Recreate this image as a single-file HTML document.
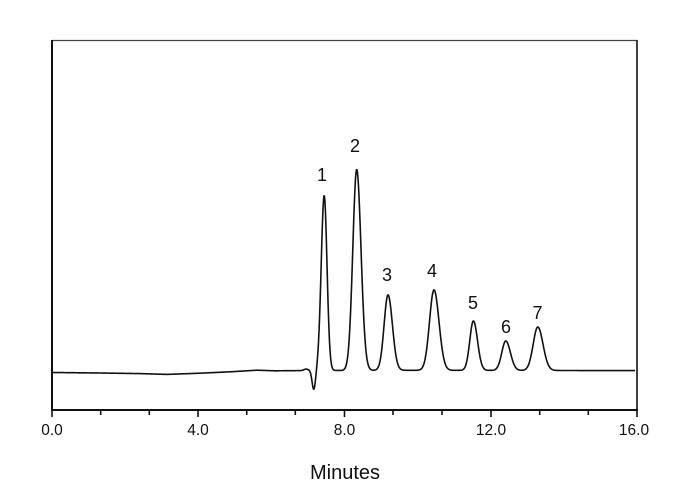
<!DOCTYPE html>
<html>
<head>
<meta charset="utf-8">
<style>
  html, body { margin: 0; padding: 0; background: #fff; }
  body { width: 690px; height: 490px; overflow: hidden; }
  svg { display: block; }
  text { font-family: "Liberation Sans", Arial, sans-serif; fill: #111; }
</style>
</head>
<body>
<svg id="chart" width="690" height="490" viewBox="0 0 690 490" xmlns="http://www.w3.org/2000/svg">
  <rect x="0" y="0" width="690" height="490" fill="#fff"/>
  <!-- frame -->
  <line x1="52" y1="40.5" x2="637" y2="40.5" stroke="#444" stroke-width="1.2"/>
  <line x1="637" y1="40" x2="637" y2="411" stroke="#111" stroke-width="1.6"/>
  <line x1="52" y1="40" x2="52" y2="411" stroke="#111" stroke-width="2"/>
  <line x1="51" y1="410" x2="638" y2="410" stroke="#111" stroke-width="2"/>
  <!-- ticks -->
  <g stroke="#111" stroke-width="1.6">
    <line x1="52" y1="410" x2="52" y2="417"/>
    <line x1="100.7" y1="410" x2="100.7" y2="415"/>
    <line x1="149.3" y1="410" x2="149.3" y2="415"/>
    <line x1="198" y1="410" x2="198" y2="417"/>
    <line x1="246.7" y1="410" x2="246.7" y2="415"/>
    <line x1="295.3" y1="410" x2="295.3" y2="415"/>
    <line x1="344.5" y1="410" x2="344.5" y2="417"/>
    <line x1="393" y1="410" x2="393" y2="415"/>
    <line x1="442" y1="410" x2="442" y2="415"/>
    <line x1="491" y1="410" x2="491" y2="417"/>
    <line x1="539.7" y1="410" x2="539.7" y2="415"/>
    <line x1="588.3" y1="410" x2="588.3" y2="415"/>
    <line x1="637" y1="410" x2="637" y2="417"/>
  </g>
  <!-- tick labels -->
  <g font-size="15.5" text-anchor="middle">
    <text x="52" y="435">0.0</text>
    <text x="198" y="435">4.0</text>
    <text x="344.5" y="435">8.0</text>
    <text x="491" y="435">12.0</text>
    <text x="634" y="435">16.0</text>
  </g>
  <text x="345" y="479" font-size="20" text-anchor="middle">Minutes</text>
  <!-- peak labels -->
  <g font-size="18" text-anchor="middle">
    <text x="322" y="181">1</text>
    <text x="355" y="152">2</text>
    <text x="387" y="281">3</text>
    <text x="432" y="277">4</text>
    <text x="473" y="309">5</text>
    <text x="506" y="333">6</text>
    <text x="537.5" y="319">7</text>
  </g>
  <path id="trace" d="M53 372.5 L635 370.5" fill="none" stroke="#111" stroke-width="1.6" stroke-linejoin="round"/>
</svg>
<script>
(function(){
  var base = [[53,372.5],[100,373],[140,373.6],[167,374.4],[200,373.2],[230,371.8],[257,370.2],[275,370.8],[300,370.6],[308,370.2],[330,370.5],[400,370.3],[500,370.4],[635,370.6]];
  function b(x){
    for (var i=0;i<base.length-1;i++){
      if (x>=base[i][0] && x<=base[i+1][0]){
        var t=(x-base[i][0])/(base[i+1][0]-base[i][0]);
        return base[i][1]+t*(base[i+1][1]-base[i][1]);
      }
    }
    return base[base.length-1][1];
  }
  // [center, height, sigmaLeft, sigmaRight]
  var peaks = [
    [324.2,175,3.0,2.8],
    [356.7,201,3.9,4.3],
    [388.0,75.5,3.9,4.4],
    [434.0,80.5,4.5,5.0],
    [473.4,49.5,3.6,4.1],
    [505.8,29.5,4.0,4.6],
    [537.8,43.5,4.6,5.2]
  ];
  function y(x){
    var v=b(x);
    for (var i=0;i<peaks.length;i++){
      var p=peaks[i], d=x-p[0], s=d<0?p[2]:p[3];
      v-=p[1]*Math.exp(-d*d/(2*s*s));
    }
    // dip
    var dd=x-313.8;
    v+=19.5*Math.exp(-dd*dd/(2*1.7*1.7));
    // small bump before dip
    var db=x-306;
    v-=1.2*Math.exp(-db*db/(2*2*2));
    return v;
  }
  var d="M53 "+y(53).toFixed(2);
  for (var x=53.5;x<=635;x+=0.5){
    d+=" L"+x.toFixed(1)+" "+y(x).toFixed(2);
  }
  document.getElementById("trace").setAttribute("d",d);
})();
</script>
</body>
</html>
